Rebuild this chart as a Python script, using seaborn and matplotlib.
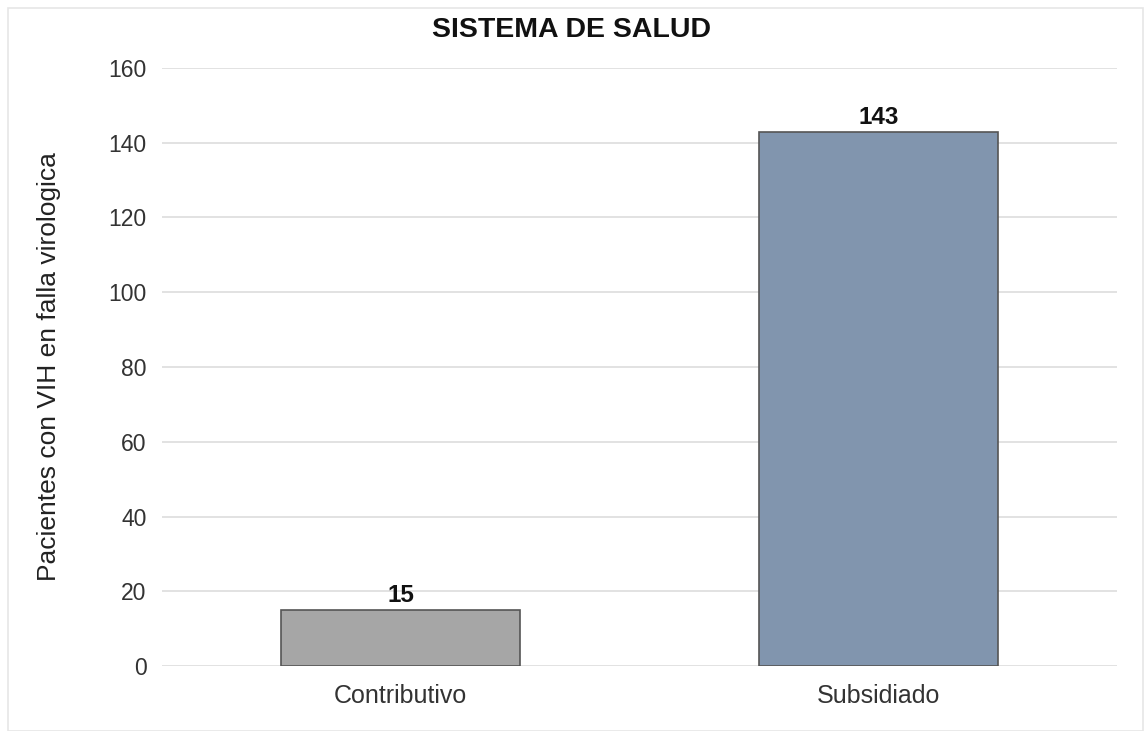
import matplotlib
matplotlib.use("Agg")
import matplotlib.pyplot as plt
import seaborn as sns
import pandas as pd

categories = ["Contributivo", "Subsidiado"]
values = [15, 143]
bar_colors = ["#a6a6a6", "#8195ae"]
y_ticks = [0, 20, 40, 60, 80, 100, 120, 140, 160]

sns.set_theme(style="white")
plt.rcParams["font.family"] = ["Liberation Sans", "DejaVu Sans"]

df = pd.DataFrame({"sistema": categories, "pacientes": values})

fig = plt.figure(figsize=(11.44, 7.31), dpi=100)
ax = fig.add_axes([0.1416, 0.0889, 0.8348, 0.8181])

sns.barplot(data=df, x="sistema", y="pacientes", hue="sistema",
            palette=bar_colors, saturation=1, width=0.5,
            edgecolor="#555555", linewidth=1.2, legend=False,
            ax=ax, zorder=3)

ax.set_ylim(0, 160)
ax.set_xlim(-0.5, 1.5)
ax.set_yticks(y_ticks)
ax.yaxis.grid(True, color="#e2e2e2", linewidth=1.4, zorder=0)
ax.set_axisbelow(True)
for s in ax.spines.values():
    s.set_visible(False)
ax.tick_params(axis="both", length=0, labelcolor="#333333")
ax.tick_params(axis="y", labelsize=16.5, pad=11)
ax.tick_params(axis="x", labelsize=18, pad=13)

ax.set_xlabel("")
ax.set_ylabel("Pacientes con VIH en falla virologica", fontsize=19,
              color="#222222")
ax.yaxis.set_label_coords(-0.106, 0.5)

fig.text(0.5, 0.959, "SISTEMA DE SALUD", ha="center", va="center",
         fontsize=20.5, fontweight="bold", color="#111111")

for container in ax.containers:
    ax.bar_label(container, fmt="%d", padding=2, fontsize=17.5,
                 fontweight="bold", color="#111111")

# light frame around the figure
fig.patches.append(plt.Rectangle((0.007, 0.0), 0.992, 0.989,
                                 transform=fig.transFigure, fill=False,
                                 edgecolor="#e6e6e6", linewidth=1.2))

fig.savefig("out.png", dpi=100, facecolor="white")
